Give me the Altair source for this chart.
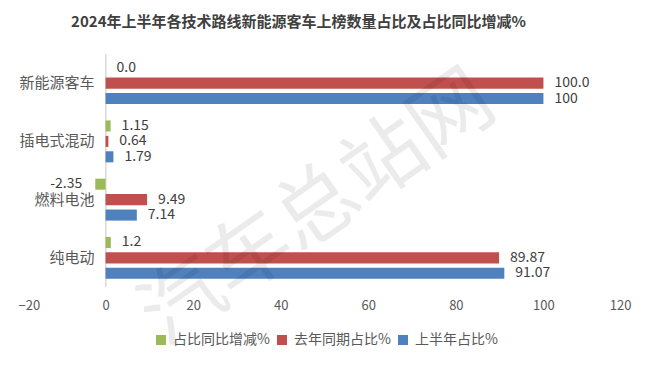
import altair as alt
import pandas as pd

categories = ["新能源客车", "插电式混动", "燃料电池", "纯电动"]
series = ["占比同比增减%", "去年同期占比%", "上半年占比%"]
change = [0.0, 1.15, -2.35, 1.2]
last_year = [100.0, 0.64, 9.49, 89.87]
first_half = [100, 1.79, 7.14, 91.07]
change_labels = ["0.0", "1.15", "-2.35", "1.2"]
last_year_labels = ["100.0", "0.64", "9.49", "89.87"]
first_half_labels = ["100", "1.79", "7.14", "91.07"]
colors = ["#9BBB59", "#C0504D", "#4F81BD"]
x_ticks = [-20, 0, 20, 40, 60, 80, 100, 120]
title_text = "2024年上半年各技术路线新能源客车上榜数量占比及占比同比增减%"
watermark = "汽车总站网"

rows = []
for vals, labs, s in [(change, change_labels, series[0]),
                      (last_year, last_year_labels, series[1]),
                      (first_half, first_half_labels, series[2])]:
    for c, v, l in zip(categories, vals, labs):
        rows.append({"cat": c, "series": s, "value": v, "label": l})
df = pd.DataFrame(rows)
cat_df = pd.DataFrame({"cat": categories})

FONT = "Noto Sans CJK SC"

y_enc = alt.Y("cat:N", sort=categories, axis=None,
              scale=alt.Scale(paddingInner=0.28, paddingOuter=0.14))
yoff = alt.YOffset("series:N", sort=series,
                   scale=alt.Scale(domain=series, paddingInner=0.283, paddingOuter=0))
x_scale = alt.Scale(domain=[-20, 120], nice=False, zero=False)
x_enc = alt.X("value:Q", scale=x_scale, stack=None,
              axis=alt.Axis(values=x_ticks, title=None, domain=False, ticks=False,
                            grid=False, labelFontSize=13, labelColor="#595959",
                            labelFont=FONT, labelPadding=12))

base = alt.Chart(df)

axis_line = base.mark_rule(color="#D9D9D9", strokeWidth=1).encode(x=alt.datum(0))

bars = base.mark_bar().encode(
    x=x_enc,
    x2=alt.datum(0),
    y=y_enc,
    yOffset=yoff,
    color=alt.Color("series:N", sort=series,
                    scale=alt.Scale(domain=series, range=colors),
                    legend=alt.Legend(orient="none", legendX=136, legendY=279,
                                      direction="horizontal", title=None,
                                      symbolType="square", symbolSize=100,
                                      symbolStrokeWidth=0, labelFontSize=14,
                                      labelFont=FONT, labelColor="#595959",
                                      columnPadding=5, labelOffset=5)),
)

pos_labels = base.transform_filter("datum.value >= 0").mark_text(
    align="left", baseline="middle", dx=11, fontSize=14, font=FONT, color="#404040"
).encode(x=alt.X("value:Q", scale=x_scale), y=y_enc, yOffset=yoff, text="label:N")

neg_labels = base.transform_filter("datum.value < 0").mark_text(
    align="right", baseline="middle", dx=-13, fontSize=14, font=FONT, color="#404040"
).encode(x=alt.X("value:Q", scale=x_scale), y=y_enc, yOffset=yoff, text="label:N")

cat_labels = alt.Chart(cat_df).mark_text(
    align="right", baseline="middle", dx=-11, fontSize=15, font=FONT, color="#595959"
).encode(x=alt.datum(0), y=y_enc, text="cat:N")

wm = alt.Chart(pd.DataFrame({"t": [watermark]})).mark_text(
    angle=325, fontSize=82, font=FONT, color="#000000", opacity=0.075,
    align="center", baseline="middle"
).encode(text="t:N", x=alt.value(300), y=alt.value(155))

chart = alt.layer(axis_line, bars, pos_labels, neg_labels, cat_labels, wm).properties(
    width=613, height=233,
    title=alt.TitleParams(text=title_text, fontSize=15, fontWeight="bold", font=FONT,
                          color="#404040", anchor="middle", dx=-26, offset=24),
    autosize=alt.AutoSizeParams(type="none"),
    padding={"left": 10, "top": 46, "right": 14, "bottom": 63},
    background="white",
).configure_view(stroke=None)

chart.save("out.html", embed_options={"renderer": "svg", "actions": False})
